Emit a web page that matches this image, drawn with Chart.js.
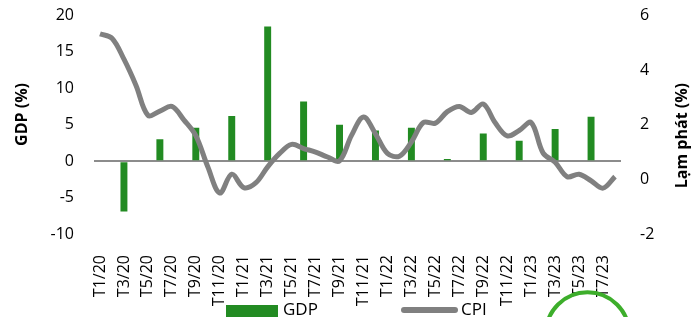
<!DOCTYPE html>
<html>
<head>
<meta charset="utf-8">
<script src="https://cdn.jsdelivr.net/npm/chart.js@4/dist/chart.umd.min.js"></script>
<style>
  body { margin: 0; background: #fff; }
  #wrap { width: 691px; height: 317px; position: relative; }
</style>
</head>
<body>
<div id="wrap"><canvas id="chart"></canvas></div>
<script>
const months = [
  'T1/20', 'T2/20', 'T3/20', 'T4/20', 'T5/20', 'T6/20', 'T7/20', 'T8/20', 'T9/20', 'T10/20', 'T11/20', 'T12/20',
  'T1/21', 'T2/21', 'T3/21', 'T4/21', 'T5/21', 'T6/21', 'T7/21', 'T8/21', 'T9/21', 'T10/21', 'T11/21', 'T12/21',
  'T1/22', 'T2/22', 'T3/22', 'T4/22', 'T5/22', 'T6/22', 'T7/22', 'T8/22', 'T9/22', 'T10/22', 'T11/22', 'T12/22',
  'T1/23', 'T2/23', 'T3/23', 'T4/23', 'T5/23', 'T6/23', 'T7/23', 'T8/23'
];

/* GDP is quarterly, plotted on the last month of each quarter */
const gdpMonths = ['T3/20', 'T6/20', 'T9/20', 'T12/20', 'T3/21', 'T6/21', 'T9/21', 'T12/21',
                   'T3/22', 'T6/22', 'T9/22', 'T12/22', 'T3/23', 'T6/23'];
const gdpValues = [-6.9, 3.0, 4.6, 6.2, 18.5, 8.2, 5.0, 4.2, 4.6, 0.3, 3.8, 2.8, 4.4, 6.1];

/* CPI is monthly */
const cpiValues = [
  5.33, 5.17, 4.4, 3.45, 2.35, 2.5, 2.67, 2.18, 1.6, 0.46, -0.5, 0.19,
  -0.3, -0.13, 0.46, 0.95, 1.28, 1.13, 1.0, 0.82, 0.68, 1.61, 2.28, 1.67,
  0.95, 0.85, 1.37, 2.08, 2.06, 2.48, 2.67, 2.45, 2.76, 2.07, 1.59, 1.79,
  2.08, 0.96, 0.63, 0.1, 0.19, -0.05, -0.32, 0.1
];

const gdpAxis = { min: -10, max: 20, step: 5 };
const cpiAxis = { min: -2, max: 6, step: 2 };

const green = '#228b22';
const grey = '#808080';

Chart.defaults.font.family = "'Open Sans', sans-serif";
Chart.defaults.color = '#000';

/* Axis titles (right one reads bottom-to-top), legend and the ring at the bottom */
const extras = {
  id: 'extras',
  afterDraw(chart) {
    const ctx = chart.ctx;
    ctx.save();
    ctx.fillStyle = '#000';
    ctx.textBaseline = 'middle';

    ctx.font = "bold 16px 'Open Sans'";
    ctx.textAlign = 'right';
    ctx.save();
    ctx.translate(22, 83);
    ctx.rotate(-Math.PI / 2);
    ctx.fillText('GDP (%)', 0, 0);
    ctx.restore();

    ctx.save();
    ctx.translate(chart.width - 9, 83);
    ctx.rotate(-Math.PI / 2);
    ctx.fillText('Lạm phát (%)', 0, 0);
    ctx.restore();

    /* legend */
    const ly = 310;
    ctx.font = "17px 'Open Sans'";
    ctx.textAlign = 'left';
    ctx.fillStyle = green;
    ctx.fillRect(226, ly - 5, 52, 12);
    ctx.fillStyle = '#000';
    ctx.fillText('GDP', 283, ly);

    ctx.strokeStyle = grey;
    ctx.lineWidth = 6;
    ctx.lineCap = 'round';
    ctx.beginPath();
    ctx.moveTo(404, ly);
    ctx.lineTo(455, ly);
    ctx.stroke();
    ctx.fillText('CPI', 461, ly);

    /* highlight ring */
    ctx.strokeStyle = '#3dae2b';
    ctx.lineWidth = 4;
    ctx.beginPath();
    ctx.arc(587.5, 334, 41.7, 0, Math.PI * 2);
    ctx.stroke();
    ctx.restore();
  }
};

new Chart(document.getElementById('chart'), {
  type: 'bar',
  data: {
    labels: months,
    datasets: [
      {
        type: 'line',
        label: 'CPI',
        data: cpiValues,
        yAxisID: 'y1',
        borderColor: grey,
        borderWidth: 5,
        pointRadius: 0,
        tension: 0.35,
        order: 0
      },
      {
        type: 'bar',
        label: 'GDP',
        data: gdpMonths.map((m, i) => ({ x: m, y: gdpValues[i] })),
        yAxisID: 'y',
        backgroundColor: green,
        barPercentage: 0.58,
        categoryPercentage: 1,
        order: 1
      }
    ]
  },
  options: {
    responsive: true,
    maintainAspectRatio: false,
    animation: false,
    layout: { padding: { top: 15.5, left: 0, right: 0, bottom: 0 } },
    plugins: {
      legend: { display: false },
      tooltip: { enabled: false }
    },
    scales: {
      x: {
        grid: { display: false },
        border: { display: false },
        ticks: {
          autoSkip: false,
          minRotation: 90,
          maxRotation: 90,
          padding: 13,
          font: { size: 16 },
          callback: (value, index) => index % 2 === 0 ? months[index] : ''
        },
        afterFit: scale => { scale.height = 83; }
      },
      y: {
        position: 'left',
        min: gdpAxis.min,
        max: gdpAxis.max,
        grid: {
          tickLength: 18,
          tickColor: 'transparent',
          lineWidth: 2,
          color: c => c.tick && c.tick.value === 0 ? '#8c8c8c' : 'transparent'
        },
        border: { display: false },
        ticks: { stepSize: gdpAxis.step, padding: 2, font: { size: 16 } },
        afterFit: scale => { scale.width = 94; }
      },
      y1: {
        position: 'right',
        min: cpiAxis.min,
        max: cpiAxis.max,
        grid: { drawOnChartArea: false, tickLength: 17, tickColor: 'transparent' },
        border: { display: false },
        ticks: { stepSize: cpiAxis.step, padding: 2, font: { size: 16 } },
        afterFit: scale => { scale.width = 70; }
      }
    }
  },
  plugins: [extras]
});
</script>
</body>
</html>
